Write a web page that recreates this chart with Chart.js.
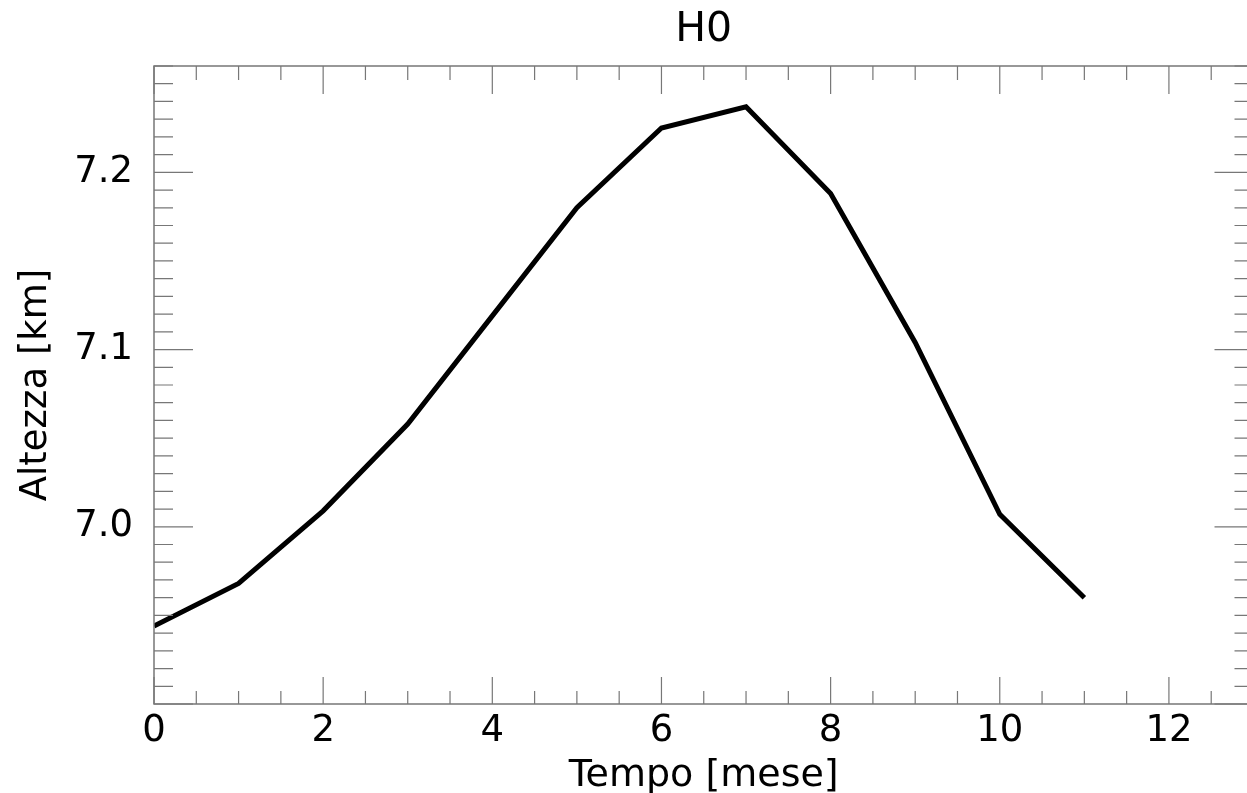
<!DOCTYPE html>
<html>
<head>
<meta charset="utf-8">
<script src="https://cdn.jsdelivr.net/npm/chart.js@4"></script>
<style>
  html, body { margin:0; padding:0; background:#fff; overflow:hidden; }
  #wrap { width:1270px; height:793px; position:relative; }
</style>
</head>
<body>
<div id="wrap"><canvas id="c"></canvas></div>
<script>
// data
const months = [0,1,2,3,4,5,6,7,8,9,10,11];
const h0 = [6.944,6.968,7.009,7.058,7.119,7.180,7.225,7.237,7.188,7.104,7.007,6.960];
const xTickVals = [0,2,4,6,8,10,12];
const yTickVals = [7.0,7.1,7.2];
const yTickLabels = ['7.0','7.1','7.2'];

const FONT = 'DejaVu Sans';
const AXIS_COL = '#777';

// IDL style box with inward ticks on all four sides
const boxTicks = {
  id:'boxTicks',
  afterDatasetsDraw(chart){
    const {ctx, chartArea:{left,right,top,bottom}, scales:{x,y}} = chart;
    ctx.save();
    ctx.strokeStyle = AXIS_COL;
    ctx.lineWidth = 1.5;
    ctx.beginPath();
    ctx.rect(left, top, right-left, bottom-top);
    ctx.stroke();
    ctx.lineWidth = 1.2;
    ctx.beginPath();
    // x ticks every 0.5, major every 2
    for(let i=0;i<=26;i++){
      const v = i*0.5, px = x.getPixelForValue(v);
      const major = i%4===0;
      ctx.moveTo(px, bottom); ctx.lineTo(px, bottom-(major?27:13));
      ctx.moveTo(px, top); ctx.lineTo(px, top+(major?28:14));
    }
    // y ticks every 0.01, major every 0.1
    for(let i=0;i<=36;i++){
      const v = 6.9+i*0.01, py = y.getPixelForValue(v);
      const major = i%10===0;
      ctx.moveTo(left, py); ctx.lineTo(left+(major?39:19), py);
      ctx.moveTo(right, py); ctx.lineTo(right-(major?39:19), py);
    }
    ctx.stroke();
    ctx.restore();
  }
};

new Chart(document.getElementById('c'), {
  type:'line',
  data:{
    datasets:[{
      data: months.map((m,i)=>({x:m, y:h0[i]})),
      borderColor:'#000',
      borderWidth:5,
      pointRadius:0,
      tension:0,
      fill:false
    }]
  },
  options:{
    responsive:true,
    maintainAspectRatio:false,
    animation:false,
    layout:{ padding:{left:0, right:16.5, top:0, bottom:0} },
    plugins:{
      legend:{display:false},
      tooltip:{enabled:false},
      title:{
        display:true,
        fullSize:false,
        text:'H0',
        color:'#000',
        font:{family:FONT, size:41, weight:'normal', lineHeight:1.2},
        padding:{top:6, bottom:10.8}
      }
    },
    scales:{
      x:{
        type:'linear',
        min:0, max:13,
        afterBuildTicks(s){ s.ticks = xTickVals.map(v=>({value:v})); },
        afterFit(s){ s.height = 89; },
        grid:{display:false, drawTicks:false},
        border:{display:false},
        ticks:{
          color:'#000',
          font:{family:FONT, size:37},
          padding:5,
          maxRotation:0,
          autoSkip:false,
          callback:v=>String(v)
        },
        title:{
          display:true,
          text:'Tempo [mese]',
          color:'#000',
          font:{family:FONT, size:38, lineHeight:0.9},
          padding:{top:0, bottom:0}
        }
      },
      y:{
        type:'linear',
        min:6.9, max:7.26,
        afterBuildTicks(s){ s.ticks = yTickVals.map(v=>({value:v})); },
        afterFit(s){ s.width = 154; },
        grid:{display:false, drawTicks:false},
        border:{display:false},
        ticks:{
          color:'#000',
          font:{family:FONT, size:37},
          padding:21,
          autoSkip:false,
          callback:v=>{
            const i = yTickVals.findIndex(t=>Math.abs(t-v)<1e-6);
            return i>=0 ? yTickLabels[i] : '';
          }
        },
        title:{
          display:true,
          text:'Altezza [km]',
          color:'#000',
          font:{family:FONT, size:37, lineHeight:1.2},
          padding:{top:14, bottom:0}
        }
      }
    }
  },
  plugins:[boxTicks]
});
</script>
</body>
</html>
